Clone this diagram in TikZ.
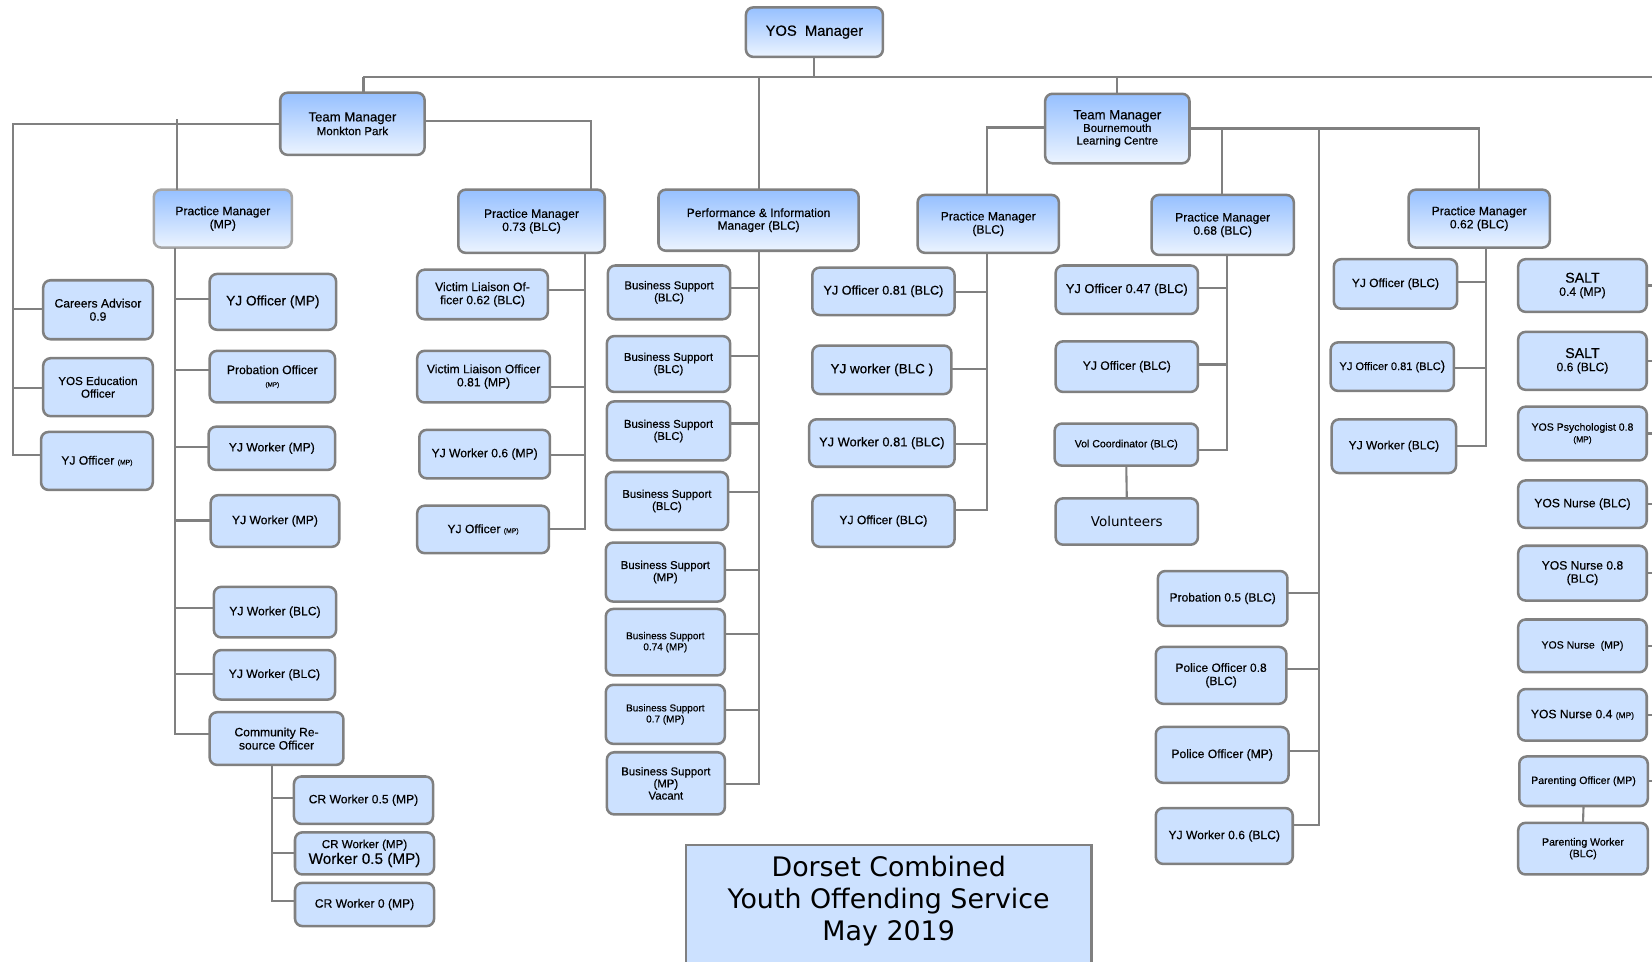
\documentclass[tikz,border=0pt]{standalone}
\usepackage{fontspec}
\setmainfont{Liberation Sans}[FakeBold=0.35]
\newfontfamily\titlefont{DejaVu Sans}
\definecolor{boxfill}{RGB}{204,225,255}
\definecolor{hdrtop}{RGB}{150,192,255}
\definecolor{hdrbot}{RGB}{236,244,255}
\definecolor{edgegray}{RGB}{128,128,128}
\newcommand\fs[2]{\fontsize{#1}{#2}\selectfont}
% style, name, left, top, right, bottom, text
\newcommand\pbox[7]{\node[#1, minimum width={(#5)-(#3)}, minimum height={(#6)-(#4)}] (#2) at ({((#3)+(#5))/2},{((#4)+(#6))/2}) {#7};}
\newcommand\stubW[3]{\draw[conn] (#1.west |- 0,#3) -- (#2 |- 0,#3);}
\newcommand\stubE[3]{\draw[conn] (#1.east |- 0,#3) -- (#2 |- 0,#3);}
\tikzset{
  bx/.style={draw=edgegray, line width=2.4pt, fill=boxfill, rounded corners=7pt,
    inner sep=1pt, outer sep=0pt, align=center, text=black},
  hdr/.style={bx, top color=hdrtop, bottom color=hdrbot},
  conn/.style={draw=edgegray, line width=2pt},
  titlebox/.style={draw=edgegray, line width=2.6pt, fill=boxfill, inner sep=0pt, outer sep=0pt},
}
\begin{document}
\begin{tikzpicture}[x=1pt,y=-1pt]
\fill[white] (0,0) rectangle (1568,913);
\useasboundingbox (0,0) rectangle (1568,913);

% ---------- managers ----------
\pbox{hdr,font=\fs{14}{15}}{ym}{708}{7}{838}{54}{YOS~~Manager}
\pbox{hdr,font=\fs{12.5}{13}}{tmm}{266}{88}{403}{147}{Team Manager\\{\fs{11}{12}Monkton Park}}
\pbox{hdr,draw=edgegray!70,font=\fs{11.5}{12.5}}{pmm}{146}{180}{277}{235}{Practice Manager\\(MP)}
\pbox{hdr,font=\fs{11.5}{12.5}}{pm73}{435}{180}{574}{240}{Practice Manager\\0.73 (BLC)}
\pbox{hdr,font=\fs{11.4}{12}}{pim}{625}{180}{815}{238}{Performance \& Information\\Manager (BLC)}
\pbox{hdr,font=\fs{12.5}{12}}{tmb}{992}{89}{1129}{155}{Team Manager\\{\fs{10.8}{11.5}Bournemouth}\\{\fs{10.8}{11.5}Learning Centre}}
\pbox{hdr,font=\fs{11.5}{12.5}}{pmb}{871}{185}{1005}{240}{Practice Manager\\(BLC)}
\pbox{hdr,font=\fs{11.5}{12.5}}{pm68}{1093}{185}{1228}{242}{Practice Manager\\0.68 (BLC)}
\pbox{hdr,font=\fs{11.5}{12.5}}{pm62}{1337}{180}{1471}{235}{Practice Manager\\0.62 (BLC)}

% ---------- left column ----------
\pbox{bx,font=\fs{11.5}{12.5}}{ca}{41}{266}{145}{322}{Careers Advisor\\0.9}
\pbox{bx,font=\fs{11}{12}}{yeo}{41}{340}{145}{395}{YOS Education\\Officer}
\pbox{bx,font=\fs{11.5}{12.5}}{yjo0}{39}{410}{145}{465}{YJ Officer {\fs{6.5}{7}(MP)}}

% ---------- Practice Manager (MP) ----------
\pbox{bx,font=\fs{13}{14}}{yjo1}{199}{260}{319}{313}{YJ Officer (MP)}
\pbox{bx,font=\fs{11.5}{12}}{prob}{199}{333}{318}{382}{Probation Officer\\{\fs{6}{7}(MP)}}
\pbox{bx,font=\fs{11.5}{12.5}}{yjw1}{198}{405}{318}{446}{YJ Worker (MP)}
\pbox{bx,font=\fs{11.5}{12.5}}{yjw2}{200}{470}{322}{519}{YJ Worker (MP)}
\pbox{bx,font=\fs{11.5}{12.5}}{yjw3}{203}{557}{319}{605}{YJ Worker (BLC)}
\pbox{bx,font=\fs{11.5}{12.5}}{yjw4}{203}{617}{318}{664}{YJ Worker (BLC)}
\pbox{bx,font=\fs{11.5}{12.5}}{cro}{199}{676}{326}{726}{Community Re-\\source Officer}
\pbox{bx,font=\fs{11.5}{12.5}}{cr1}{279}{737}{411}{782}{CR Worker 0.5 (MP)}
\pbox{bx,font=\fs{11}{13}}{cr2}{280}{790}{412}{830}{CR Worker (MP)\\[2pt]{\fs{14.5}{14}Worker 0.5 (MP)}}
\pbox{bx,font=\fs{11.5}{12.5}}{cr3}{280}{838}{412}{879}{CR Worker 0 (MP)}

% ---------- Practice Manager 0.73 ----------
\pbox{bx,font=\fs{11.5}{12.5}}{vlo1}{396}{256}{520}{303}{Victim Liaison Of-\\ficer 0.62 (BLC)}
\pbox{bx,font=\fs{11.5}{12.5}}{vlo2}{396}{333}{522}{382}{Victim Liaison Officer\\0.81 (MP)}
\pbox{bx,font=\fs{11.5}{12.5}}{yjw5}{398}{408}{522}{454}{YJ Worker 0.6 (MP)}
\pbox{bx,font=\fs{11.5}{12.5}}{yjo2}{396}{480}{521}{525}{YJ Officer {\fs{6.5}{7}(MP)}}

% ---------- Performance & Information ----------
\pbox{bx,font=\fs{10.8}{11.5}}{bs1}{577}{252}{693}{303}{Business Support\\(BLC)}
\pbox{bx,font=\fs{10.8}{11.5}}{bs2}{576}{319}{693}{372}{Business Support\\(BLC)}
\pbox{bx,font=\fs{10.8}{11.5}}{bs3}{576}{381}{693}{437}{Business Support\\(BLC)}
\pbox{bx,font=\fs{10.8}{11.5}}{bs4}{575}{448}{691}{503}{Business Support\\(BLC)}
\pbox{bx,font=\fs{10.8}{11.5}}{bs5}{575}{515}{688}{571}{Business Support\\(MP)}
\pbox{bx,font=\fs{9.5}{10.5}}{bs6}{575}{578}{688}{641}{Business Support\\0.74 (MP)}
\pbox{bx,font=\fs{9.5}{10.5}}{bs7}{575}{650}{688}{706}{Business Support\\0.7 (MP)}
\pbox{bx,font=\fs{10.8}{11.5}}{bs8}{576}{714}{688}{773}{Business Support\\(MP)\\Vacant}

% ---------- Practice Manager (BLC) ----------
\pbox{bx,font=\fs{12}{13}}{yjo3}{771}{254}{906}{299}{YJ Officer 0.81 (BLC)}
\pbox{bx,font=\fs{12.8}{13.5}}{yjw6}{771}{328}{903}{374}{YJ worker (BLC )}
\pbox{bx,font=\fs{12.2}{13}}{yjw7}{768}{398}{906}{443}{YJ Worker 0.81 (BLC)}
\pbox{bx,font=\fs{11.5}{12.5}}{yjo4}{771}{470}{906}{519}{YJ Officer (BLC)}

% ---------- Practice Manager 0.68 ----------
\pbox{bx,font=\fs{12.2}{13}}{yjo5}{1002}{252}{1137}{298}{YJ Officer 0.47 (BLC)}
\pbox{bx,font=\fs{11.5}{12.5}}{yjo6}{1002}{324}{1137}{372}{YJ Officer (BLC)}
\pbox{bx,font=\fs{10}{11}}{vol}{1001}{402}{1137}{442}{Vol Coordinator (BLC)}
\pbox{bx,font=\titlefont\fs{12.8}{13}}{vols}{1002}{473}{1137}{517}{Volunteers}

% ---------- Team Manager Bournemouth direct ----------
\pbox{bx,font=\fs{11.4}{12.5}}{prb}{1099}{542}{1222}{594}{Probation 0.5 (BLC)}
\pbox{bx,font=\fs{11.4}{12.5}}{po1}{1097}{614}{1221}{668}{Police Officer 0.8\\(BLC)}
\pbox{bx,font=\fs{11.5}{12.5}}{po2}{1097}{690}{1223}{743}{Police Officer (MP)}
\pbox{bx,font=\fs{11.5}{12.5}}{yjw8}{1097}{767}{1227}{820}{YJ Worker 0.6 (BLC)}

% ---------- Practice Manager 0.62 ----------
\pbox{bx,font=\fs{11.4}{12.5}}{yjo7}{1266}{246}{1383}{293}{YJ Officer (BLC)}
\pbox{bx,font=\fs{10.5}{12}}{yjo8}{1263}{325}{1380}{371}{YJ Officer 0.81 (BLC{\fs{12.5}{13})}}
\pbox{bx,font=\fs{11.4}{12.5}}{yjw9}{1264}{398}{1382}{449}{YJ Worker (BLC)}

% ---------- right column ----------
\pbox{bx,font=\fs{11.5}{12.5}}{s1}{1441}{246}{1563}{296}{{\fs{13.5}{13.5}SALT}\\0.4 (MP)}
\pbox{bx,font=\fs{11.5}{12.5}}{s2}{1441}{315}{1563}{370}{{\fs{13.5}{13.5}SALT}\\0.6 (BLC)}
\pbox{bx,font=\fs{10}{11}}{psy}{1441}{386}{1563}{437}{YOS Psychologist 0.8\\{\fs{8}{9}(MP)}}
\pbox{bx,font=\fs{11.5}{12.5}}{n1}{1441}{456}{1563}{501}{YOS Nurse (BLC)}
\pbox{bx,font=\fs{11.5}{12.5}}{n2}{1441}{518}{1563}{570}{YOS Nurse 0.8\\(BLC)}
\pbox{bx,font=\fs{10}{11}}{n3}{1441}{588}{1563}{638}{YOS Nurse~ (MP)}
\pbox{bx,font=\fs{11.5}{12.5}}{n4}{1441}{654}{1563}{703}{YOS Nurse 0.4 {\fs{8}{9}(MP)}}
\pbox{bx,font=\fs{10}{11}}{par1}{1442}{718}{1564}{765}{Parenting Officer (MP)}
\pbox{bx,font=\fs{10}{11}}{par2}{1441}{781}{1564}{830}{Parenting Worker\\(BLC)}

% ---------- title ----------
\pbox{titlebox}{tb}{651}{802}{1036}{925}{}
\node[font=\titlefont\fs{25.5}{30.5}, align=center, inner sep=0pt] (tt) at (843.5,855) {Dorset Combined\\Youth Offending Service\\May 2019};

% ---------- connectors ----------
\coordinate (tl) at (345,73);
\coordinate (tr) at (1568,73);
\draw[conn] (ym.south) -- (ym.south |- tl);
\draw[conn] (tl) -- (tr);
\draw[conn] (tl) -- (tl |- tmm.north);
\draw[conn] (pim.north |- tl) -- (pim.north);
\draw[conn] (tmb.north |- tl) -- (tmb.north);

% Monkton Park: left column
\coordinate (lb) at (12,432);
\draw[conn] (tmm.west) -| (lb) -- (yjo0.west |- lb);
\stubW{ca}{lb}{293}
\stubW{yeo}{lb}{368}

% Monkton Park: Practice Manager (MP)
\coordinate (pmt) at (168,113);
\draw[conn] (pmt) -- (pmm.north -| pmt);
\coordinate (pb) at (166,697);
\draw[conn] (pmm.south -| pb) -- (pb) -- (cro.west |- pb);
\stubW{yjo1}{pb}{284}
\stubW{prob}{pb}{351}
\stubW{yjw1}{pb}{424}
\stubW{yjw2}{pb}{494}
\stubW{yjw3}{pb}{577}
\stubW{yjw4}{pb}{640}

% Community Resource Officer
\coordinate (cb) at (258,855);
\draw[conn] (cro.south -| cb) -- (cb) -- (cr3.west |- cb);
\stubW{cr1}{cb}{757}
\stubW{cr2}{cb}{810}

% Practice Manager 0.73
\coordinate (p73t) at (561,115);
\draw[conn] (tmm.east |- p73t) -- (p73t) -- (pm73.north -| p73t);
\coordinate (vb) at (555,502);
\draw[conn] (pm73.south -| vb) -- (vb) -- (yjo2.east |- vb);
\stubE{vlo1}{vb}{275}
\stubE{vlo2}{vb}{367}
\stubE{yjw5}{vb}{432}

% Performance & Information Manager
\coordinate (bb) at (720,744);
\draw[conn] (pim.south -| bb) -- (bb) -- (bs8.east |- bb);
\stubE{bs1}{bb}{273}
\stubE{bs2}{bb}{338}
\stubE{bs3}{bb}{402}
\stubE{bs4}{bb}{467}
\stubE{bs5}{bb}{541}
\stubE{bs6}{bb}{602}
\stubE{bs7}{bb}{674}

% Team Manager Bournemouth
\coordinate (tbl) at (937,121);
\draw[conn] (tmb.west |- tbl) -- (tbl) -- (pmb.north -| tbl);
\coordinate (tbr) at (1404,122);
\draw[conn] (tmb.east |- tbr) -- (tbr) -- (pm62.north -| tbr);
\coordinate (m68) at (1160,122);
\draw[conn] (m68) -- (pm68.north -| m68);
\coordinate (tbb) at (1252,783);
\draw[conn] (tbb |- tbr) -- (tbb) -- (yjw8.east |- tbb);
\stubE{prb}{tbb}{563}
\stubE{po1}{tbb}{635}
\stubE{po2}{tbb}{713}

% Practice Manager (BLC)
\coordinate (qb) at (937,484);
\draw[conn] (pmb.south -| qb) -- (qb) -- (yjo4.east |- qb);
\stubE{yjo3}{qb}{277}
\stubE{yjw6}{qb}{350}
\stubE{yjw7}{qb}{421}

% Practice Manager 0.68
\coordinate (rb) at (1165,427);
\draw[conn] (pm68.south -| rb) -- (rb) -- (vol.east |- rb);
\stubE{yjo5}{rb}{273}
\stubE{yjo6}{rb}{346}
\draw[conn] (vol.south) -- (vols.north);

% Practice Manager 0.62
\coordinate (sb) at (1410,423);
\draw[conn] (pm62.south -| sb) -- (sb) -- (yjw9.east |- sb);
\stubE{yjo7}{sb}{268}
\stubE{yjo8}{sb}{349}

% right column
\foreach \n in {s1,s2,psy,n1,n2,n3,n4,par1}{\draw[conn] (\n.east) -- (\n.east -| tr);}
\draw[conn] (par1.south) -- (par2.north);
\end{tikzpicture}
\end{document}
